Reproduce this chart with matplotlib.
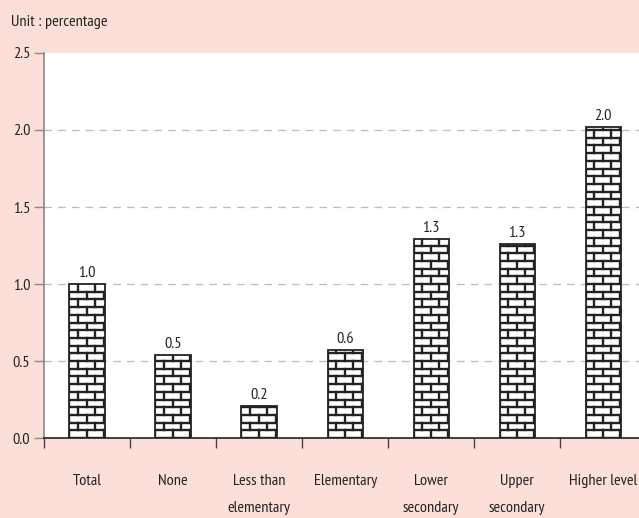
import numpy as np
import matplotlib
matplotlib.use('Agg')
import matplotlib.pyplot as plt

categories = ['Total', 'None', 'Less than\nelementary', 'Elementary',
              'Lower\nsecondary', 'Upper\nsecondary', 'Higher level']
values = [1.0, 0.54, 0.21, 0.57, 1.29, 1.26, 2.02]
labels = ['1.0', '0.5', '0.2', '0.6', '1.3', '1.3', '2.0']
yticks = [0.0, 0.5, 1.0, 1.5, 2.0, 2.5]

plt.rcParams['font.family'] = ['PT Sans Narrow', 'Roboto Condensed', 'Open Sans Condensed', 'DejaVu Sans']
bg = '#fcdfd8'
fs = 11.7

fig = plt.figure(figsize=(6.39, 5.18), dpi=100, facecolor=bg)
ax = fig.add_axes([0.0689, 0.1544, 0.9425, 0.7433])
ax.set_facecolor('white')

x = np.arange(len(categories))
bw = 0.41
bars = ax.bar(x, values, width=bw, color='white', edgecolor='#222222',
              linewidth=1.3, zorder=3)

# brick pattern drawn inside each bar
row_h = 0.05
brick_w = 0.2
for bar, lab in zip(bars, labels):
    x0 = bar.get_x()
    x1 = x0 + bar.get_width()
    h = bar.get_height()
    nrows = int(np.ceil(h / row_h))
    for i in range(nrows):
        y0 = i * row_h
        y1 = min(y0 + row_h, h)
        ln = ax.plot([x0, x1], [y0, y0], color='#222222', lw=1.7, zorder=4)[0]
        ln.set_clip_path(bar)
        off = 0.0 if i % 2 == 0 else brick_w / 2
        for xv in np.arange(x0 + off, x1, brick_w):
            v = ax.plot([xv, xv], [y0, y1], color='#222222', lw=1.7, zorder=4)[0]
            v.set_clip_path(bar)
    ax.text(bar.get_x() + bar.get_width() / 2, h + 0.025, lab,
            ha='center', va='bottom', fontsize=fs, color='#222222')

ax.set_xlim(-0.5, len(categories) - 0.5)
ax.set_ylim(0, 2.5)
ax.set_yticks(yticks)
ax.set_yticklabels(['%.1f' % t for t in yticks], fontsize=fs, color='#222222')
for t in yticks[1:-1]:
    ax.axhline(t, color='#bbbbbb', lw=0.9, ls=(0, (6, 5)), zorder=1)

ax.set_xticks(x)
ax.set_xticklabels(categories, fontsize=fs, color='#222222', linespacing=2.2, va='top')
ax.tick_params(axis='x', which='major', length=0, pad=26)
ax.set_xticks(np.arange(-0.5, len(categories), 1.0), minor=True)
ax.tick_params(axis='x', which='minor', length=7, color='#444444', width=1)
ax.tick_params(axis='y', length=7, color='#888888', width=1, pad=3)

ax.spines['top'].set_visible(False)
ax.spines['right'].set_visible(False)
ax.spines['left'].set_color('#888888')
ax.spines['left'].set_linewidth(1.2)
ax.spines['bottom'].set_color('#222222')
ax.spines['bottom'].set_linewidth(1.2)

fig.text(11 / 639, 1 - 22 / 518, 'Unit : percentage', fontsize=fs,
         color='#222222', ha='left', va='center')

fig.savefig('out.png', dpi=100, facecolor=bg)
